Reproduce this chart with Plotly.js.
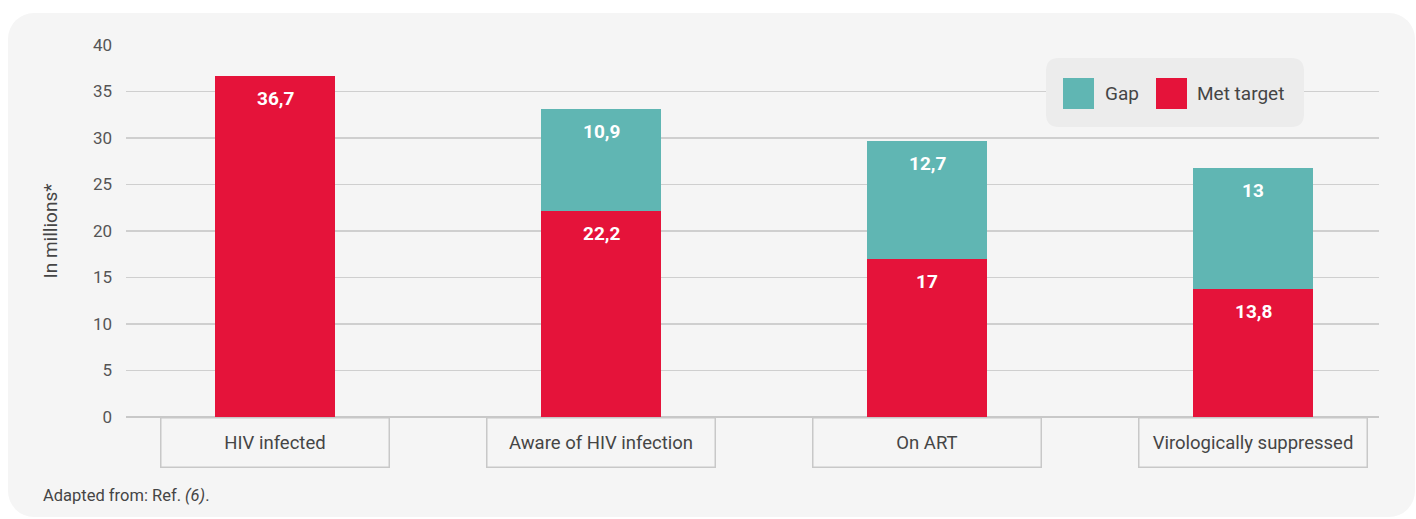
<!DOCTYPE html>
<html>
<head>
<meta charset="utf-8">
<script src="https://cdn.plot.ly/plotly-3.0.1.min.js"></script>
<style>
  html, body { margin: 0; padding: 0; background: #ffffff; }
  #wrap { position: relative; width: 1416px; height: 519px; overflow: hidden; }
  #panel {
    position: absolute; left: 8px; top: 13px; width: 1407px; height: 504px;
    background: #f5f5f5; border-radius: 26px;
  }
  #chart { position: absolute; left: 0; top: 0; width: 1416px; height: 519px; }
</style>
</head>
<body>
<div id="wrap">
  <div id="panel"></div>
  <div id="chart"></div>
</div>
<script>
const categories = ["HIV infected", "Aware of HIV infection", "On ART", "Virologically suppressed"];
const metTarget = [36.7, 22.2, 17, 13.8];
const gap = [null, 10.9, 12.7, 13];
const yTicks = [0, 5, 10, 15, 20, 25, 30, 35, 40];

const FONT = "Roboto, 'Open Sans', sans-serif";
const RED = "#e5133a";
const TEAL = "#60b6b3";
const TEXT = "#454545";

// plot area in pixels
const L = 126, R = 1379, T = 45, B = 417;
const px = (x) => (x - L) / (R - L);
const py = (y) => (B - y) / (B - T);

function fmt(v) {
  return String(v).replace(".", ",");
}

const traces = [
  {
    type: "bar",
    name: "Met target",
    x: categories,
    y: metTarget,
    width: 0.368,
    marker: { color: RED, line: { width: 0 } },
    hoverinfo: "skip"
  },
  {
    type: "bar",
    name: "Gap",
    x: categories,
    y: gap,
    width: 0.368,
    marker: { color: TEAL, line: { width: 0 } },
    hoverinfo: "skip"
  }
];

function roundRect(x0, y0, x1, y1, r) {
  // pixel coords -> paper path with rounded corners
  const rx = r / (R - L), ry = r / (B - T);
  const a = px(x0), b = px(x1), top = py(y0), bot = py(y1);
  return `M${a + rx},${top} L${b - rx},${top} Q${b},${top} ${b},${top - ry} ` +
    `L${b},${bot + ry} Q${b},${bot} ${b - rx},${bot} L${a + rx},${bot} ` +
    `Q${a},${bot} ${a},${bot + ry} L${a},${top - ry} Q${a},${top} ${a + rx},${top} Z`;
}

const shapes = [
  { type: "path", xref: "paper", yref: "paper", path: roundRect(1046, 58, 1304, 127, 13),
    fillcolor: "#ececec", line: { width: 0 }, layer: "above" },
  { type: "rect", xref: "paper", yref: "paper", x0: px(1063), x1: px(1094), y0: py(78), y1: py(109),
    fillcolor: TEAL, line: { width: 0 }, layer: "above" },
  { type: "rect", xref: "paper", yref: "paper", x0: px(1156), x1: px(1187), y0: py(78), y1: py(109),
    fillcolor: RED, line: { width: 0 }, layer: "above" }
];

const labelFont = { family: FONT, size: 19, color: "#ffffff", weight: 700 };

const annotations = [];

// value labels near the top of each segment
categories.forEach((c, i) => {
  annotations.push({
    xref: "x", yref: "y", x: c, y: metTarget[i], yanchor: "top", yshift: -9,
    text: fmt(metTarget[i]), showarrow: false, font: labelFont
  });
  if (gap[i] !== null) {
    annotations.push({
      xref: "x", yref: "y", x: c, y: metTarget[i] + gap[i], yanchor: "top", yshift: -9,
      text: fmt(gap[i]), showarrow: false, font: labelFont
    });
  }
});

// category boxes under the axis
categories.forEach((c) => {
  annotations.push({
    xref: "x", yref: "paper", x: c, y: 0, xanchor: "center", yanchor: "top",
    text: c, showarrow: false, width: 227, height: 48, borderpad: 0,
    bordercolor: "#c8c8c8", borderwidth: 1.5,
    font: { family: FONT, size: 18.5, color: TEXT }
  });
});

annotations.push(
  { xref: "paper", yref: "paper", x: px(1103), y: py(93.5), xanchor: "left", yanchor: "middle",
    text: "Gap", showarrow: false, font: { family: FONT, size: 19, color: TEXT } },
  { xref: "paper", yref: "paper", x: px(1195), y: py(93.5), xanchor: "left", yanchor: "middle",
    text: "Met target", showarrow: false, font: { family: FONT, size: 19, color: TEXT } },
  { xref: "paper", yref: "paper", x: px(41), y: py(495), xanchor: "left", yanchor: "middle",
    text: "Adapted from: Ref. <i>(6)</i>.", showarrow: false,
    font: { family: FONT, size: 16.5, color: TEXT } }
);

const layout = {
  width: 1416,
  height: 519,
  margin: { l: L, r: 1416 - R, t: T, b: 519 - B, pad: 0 },
  paper_bgcolor: "rgba(0,0,0,0)",
  plot_bgcolor: "rgba(0,0,0,0)",
  barmode: "stack",
  showlegend: false,
  xaxis: {
    type: "category",
    range: [-0.458, 3.386],
    showticklabels: false,
    showgrid: false,
    zeroline: false,
    showline: false,
    fixedrange: true
  },
  yaxis: {
    range: [0, 40],
    tickvals: yTicks,
    ticktext: yTicks.map(String),
    showgrid: true,
    gridcolor: "#cfcfcf",
    gridwidth: 1.5,
    zeroline: true,
    zerolinecolor: "#c8c8c8",
    zerolinewidth: 1.5,
    showline: false,
    ticks: "",
    ticklabelstandoff: 13,
    tickfont: { family: FONT, size: 17, color: "#555555" },
    title: { text: "In millions*", standoff: 30, font: { family: FONT, size: 19, color: TEXT } },
    fixedrange: true
  },
  shapes: shapes,
  annotations: annotations
};

Plotly.newPlot("chart", traces, layout, { displayModeBar: false, staticPlot: true });
</script>
</body>
</html>
